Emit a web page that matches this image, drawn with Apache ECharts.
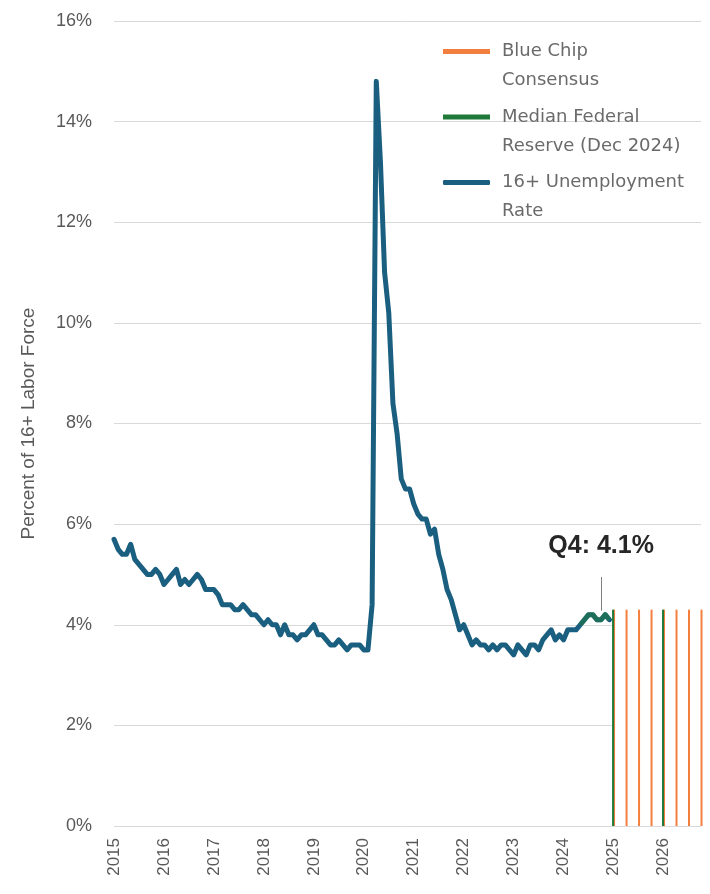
<!DOCTYPE html>
<html>
<head>
<meta charset="utf-8">
<script src="https://cdn.jsdelivr.net/npm/echarts@6/dist/echarts.min.js"></script>
<style>
  html, body { margin: 0; padding: 0; background: #ffffff; }
  #chart { width: 710px; height: 894px; }
</style>
</head>
<body>
<div id="chart"></div>
<script>
// Axis years (January tick labels) and the monthly axis built from them
const years = ['2015', '2016', '2017', '2018', '2019', '2020', '2021', '2022', '2023', '2024', '2025', '2026'];
const lastMonthOf2026 = 10; // axis runs through October 2026

// 16+ unemployment rate, monthly, Jan 2015 - Dec 2024 (percent)
const unemployment2015 = [5.7, 5.5, 5.4, 5.4, 5.6, 5.3, 5.2, 5.1, 5.0, 5.0, 5.1, 5.0];
const unemployment2016 = [4.8, 4.9, 5.0, 5.1, 4.8, 4.9, 4.8, 4.9, 5.0, 4.9, 4.7, 4.7];
const unemployment2017 = [4.7, 4.6, 4.4, 4.4, 4.4, 4.3, 4.3, 4.4, 4.3, 4.2, 4.2, 4.1];
const unemployment2018 = [4.0, 4.1, 4.0, 4.0, 3.8, 4.0, 3.8, 3.8, 3.7, 3.8, 3.8, 3.9];
const unemployment2019 = [4.0, 3.8, 3.8, 3.7, 3.6, 3.6, 3.7, 3.6, 3.5, 3.6, 3.6, 3.6];
const unemployment2020 = [3.5, 3.5, 4.4, 14.8, 13.2, 11.0, 10.2, 8.4, 7.8, 6.9, 6.7, 6.7];
const unemployment2021 = [6.4, 6.2, 6.1, 6.1, 5.8, 5.9, 5.4, 5.1, 4.7, 4.5, 4.2, 3.9];
const unemployment2022 = [4.0, 3.8, 3.6, 3.7, 3.6, 3.6, 3.5, 3.6, 3.5, 3.6, 3.6, 3.5];
const unemployment2023 = [3.4, 3.6, 3.5, 3.4, 3.6, 3.6, 3.5, 3.7, 3.8, 3.9, 3.7, 3.8];
const unemployment2024 = [3.7, 3.9, 3.9, 3.9, 4.0, 4.1, 4.2, 4.2, 4.1, 4.1, 4.2, 4.1];

// Forecast markers (quarterly), percent
const blueChipDates = ['2025-01', '2025-04', '2025-07', '2025-10', '2026-01', '2026-04', '2026-07', '2026-10'];
const blueChipValues = [4.3, 4.3, 4.3, 4.3, 4.3, 4.3, 4.3, 4.3];
const fedDates = ['2025-01', '2026-01'];
const fedValues = [4.3, 4.3];
// Months of 2024 over which the Fed line is drawn on top of the actual rate
const fedOverlayStart = '2024-05';

const yTicks = { min: 0, max: 16, interval: 2 };

// ---- build axis and series data ----
const categories = [];
years.forEach(function (y) {
  const last = (y === '2026') ? lastMonthOf2026 : 12;
  for (let m = 1; m <= last; m++) categories.push(y + '-' + (m < 10 ? '0' + m : '' + m));
});

const unemployment = [].concat(unemployment2015, unemployment2016, unemployment2017,
  unemployment2018, unemployment2019, unemployment2020, unemployment2021,
  unemployment2022, unemployment2023, unemployment2024);
const unemploymentData = unemployment.map(function (v, i) { return [categories[i], v]; });

const overlayIdx = categories.indexOf(fedOverlayStart);
const fedOverlayData = unemploymentData.slice(overlayIdx);

const blueChipData = blueChipDates.map(function (d, i) { return [d, blueChipValues[i]]; });
const fedData = fedDates.map(function (d, i) { return [d, fedValues[i]]; });

// Q4 2024 average for the callout
const q4 = unemployment2024.slice(9);
const q4Avg = q4.reduce(function (a, b) { return a + b; }, 0) / q4.length;
const q4Label = 'Q4: ' + q4Avg.toFixed(1) + '%';

const forecastTop = Math.max.apply(null, blueChipValues.concat(fedValues));

const BLUE = '#1b5f80';
const GREEN = '#1f7a3a';
const ORANGE = '#f47e3e';
const GRAY_TEXT = '#595959';

// Legend labels wrap onto two lines; the leading blank line keeps the
// swatch level with the first line of text.
const legendNames = {
  'Blue Chip Consensus': '\nBlue Chip\nConsensus',
  'Median Federal Reserve (Dec 2024)': '\nMedian Federal\nReserve (Dec 2024)',
  '16+ Unemployment Rate': '\n16+ Unemployment\nRate'
};

const chart = echarts.init(document.getElementById('chart'), null, { renderer: 'canvas' });

chart.setOption({
  animation: false,
  backgroundColor: '#ffffff',
  grid: { left: 114, right: 9, top: 21, bottom: 68, containLabel: false },
  legend: {
    left: 443,
    top: 8,
    orient: 'vertical',
    itemWidth: 47,
    itemHeight: 5,
    itemGap: -21.5,
    padding: 0,
    selectedMode: false,
    data: [
      { name: 'Blue Chip Consensus', icon: 'rect', itemStyle: { color: ORANGE } },
      { name: 'Median Federal Reserve (Dec 2024)', icon: 'rect', itemStyle: { color: GREEN } },
      { name: '16+ Unemployment Rate', icon: 'roundRect', itemStyle: { color: BLUE } }
    ],
    formatter: function (name) { return legendNames[name] || name; },
    textStyle: {
      fontFamily: 'DejaVu Sans',
      fontSize: 18,
      color: '#6a6a6a',
      lineHeight: 29,
      padding: [0, 0, 0, 7]
    }
  },
  xAxis: {
    type: 'category',
    data: categories,
    boundaryGap: false,
    axisLine: { show: false },
    axisTick: { show: false },
    splitLine: { show: false },
    axisLabel: {
      rotate: 90,
      margin: 12,
      color: GRAY_TEXT,
      fontFamily: 'Liberation Sans',
      fontSize: 17,
      interval: function (index, value) { return value.slice(5) === '01'; },
      formatter: function (value) { return value.slice(0, 4); }
    }
  },
  yAxis: {
    type: 'value',
    min: yTicks.min,
    max: yTicks.max,
    interval: yTicks.interval,
    name: 'Percent of 16+ Labor Force',
    nameLocation: 'middle',
    nameRotate: 90,
    nameGap: 76,
    nameTextStyle: { fontFamily: 'Liberation Sans', fontSize: 19, color: GRAY_TEXT },
    axisLine: { show: false },
    axisTick: { show: false },
    axisLabel: {
      margin: 22,
      color: GRAY_TEXT,
      fontFamily: 'Liberation Sans',
      fontSize: 18,
      formatter: '{value}%'
    },
    splitLine: { lineStyle: { color: '#d9d9d9', width: 1 } }
  },
  series: [
    {
      name: '16+ Unemployment Rate',
      type: 'line',
      data: unemploymentData,
      showSymbol: false,
      symbol: 'none',
      z: 2,
      lineStyle: { color: BLUE, width: 5, join: 'round', cap: 'round' },
      itemStyle: { color: BLUE },
      markArea: {
        silent: true,
        itemStyle: { color: '#ffffff' },
        data: [[
          { xAxis: blueChipDates[0], yAxis: 0 },
          { xAxis: categories[categories.length - 1], yAxis: forecastTop }
        ]]
      },
      markLine: {
        silent: true,
        symbol: 'none',
        lineStyle: { color: '#7f7f7f', width: 1, type: 'solid' },
        label: {
          show: true,
          position: 'end',
          distance: 18,
          formatter: q4Label,
          color: '#262626',
          fontFamily: 'Liberation Sans',
          fontWeight: 'bold',
          fontSize: 25
        },
        data: [[
          { coord: ['2024-10', 4.28] },
          { coord: ['2024-10', 4.95] }
        ]]
      }
    },
    {
      name: 'Median Federal Reserve (Dec 2024)',
      type: 'line',
      data: fedOverlayData,
      showSymbol: false,
      symbol: 'none',
      z: 3,
      lineStyle: { color: GREEN, width: 5, opacity: 0.55, join: 'round' },
      itemStyle: { color: GREEN }
    },
    {
      name: 'Median Federal Reserve (Dec 2024)',
      type: 'bar',
      data: fedData,
      barWidth: 2,
      barGap: '-50%',
      z: 5,
      itemStyle: { color: GREEN }
    },
    {
      name: 'Blue Chip Consensus',
      type: 'bar',
      data: blueChipData,
      barWidth: 2,
      barGap: '-50%',
      z: 4,
      itemStyle: { color: ORANGE }
    }
  ]
});
</script>
</body>
</html>
